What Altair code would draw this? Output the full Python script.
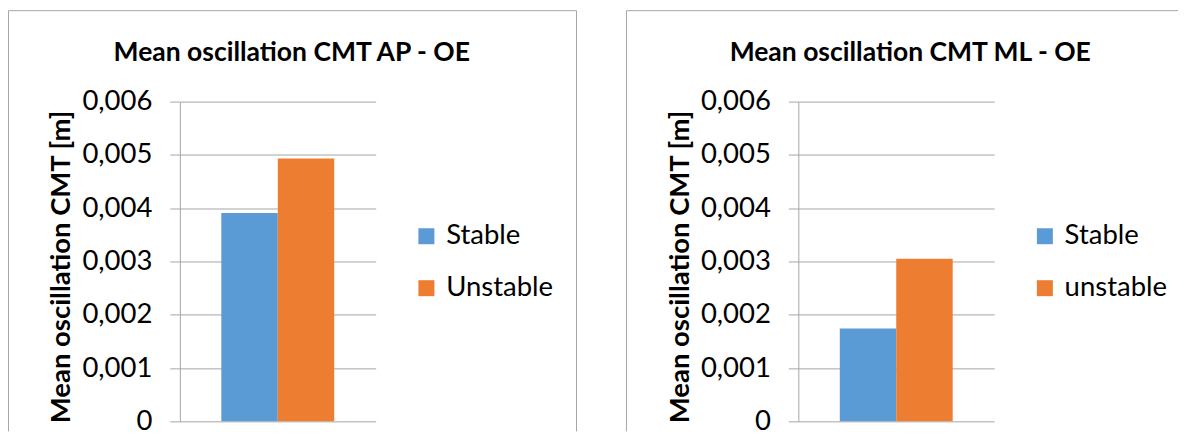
import altair as alt
import pandas as pd

# ---- data ----
titles = ["Mean oscillation CMT AP - OE", "Mean oscillation CMT ML - OE"]
series_ap = ["Stable", "Unstable"]
values_ap = [0.00391, 0.00493]
series_ml = ["Stable", "unstable"]
values_ml = [0.00174, 0.00305]
bar_colors = ["#5B9BD5", "#ED7D31"]
y_ticks = [0, 0.001, 0.002, 0.003, 0.004, 0.005, 0.006]
y_title = "Mean oscillation CMT [m]"

FONT = "Lato"
W, H = 196, 320
GRID = "#a6a6a6"
BORDER = "#a6a6a6"
LABEL_EXPR = "datum.value == 0 ? '0' : replace(format(datum.value, '.3f'), '.', ',')"


def one_row():
    return pd.DataFrame({"k": [0]})


def panel(title, series, values, left, right, top, bottom, right_side=True):
    df = pd.DataFrame({"series": series, "value": values})
    bars = alt.Chart(df).mark_bar(strokeWidth=0).encode(
        x=alt.X("series:N", sort=series, axis=None,
                scale=alt.Scale(paddingInner=0, paddingOuter=0.7345)),
        y=alt.Y("value:Q",
                scale=alt.Scale(domain=[0, 0.006], nice=False, zero=True),
                axis=alt.Axis(values=y_ticks, title=y_title, labelExpr=LABEL_EXPR,
                              labelFont=FONT, labelFontSize=27.5, labelColor="#000000",
                              labelPadding=18, tickSize=10, tickColor=GRID, ticks=True,
                              domainColor=GRID, gridColor=GRID, grid=True,
                              titleFont=FONT, titleFontSize=27.5, titleFontWeight="bold",
                              titleColor="#000000", titleAngle=-90, titleX=-118, titleY=165,
                              titleAlign="center", titleBaseline="middle")),
        color=alt.Color("series:N", sort=series,
                        scale=alt.Scale(domain=series, range=bar_colors),
                        legend=alt.Legend(title=None, orient="none", legendX=233, legendY=121,
                                          symbolType="square", symbolSize=256,
                                          symbolStrokeWidth=0, labelFont=FONT,
                                          labelFontSize=27.5, labelColor="#000000",
                                          labelOffset=6, rowPadding=23, padding=0)),
    )
    head = alt.Chart(one_row()).mark_text(
        font=FONT, fontSize=26.5, fontWeight="bold", color="#000000",
        align="center", baseline="alphabetic"
    ).encode(x=alt.value(112), y=alt.value(-40.7), text=alt.value(title))
    top_rule = alt.Chart(one_row()).mark_rule(color=BORDER, strokeWidth=1).encode(
        x=alt.value(left), x2=alt.value(right), y=alt.value(top))
    left_rule = alt.Chart(one_row()).mark_rule(color=BORDER, strokeWidth=1).encode(
        x=alt.value(left), y=alt.value(top), y2=alt.value(bottom))
    layers = [top_rule, left_rule]
    if right_side:
        layers.append(alt.Chart(one_row()).mark_rule(color=BORDER, strokeWidth=1).encode(
            x=alt.value(right), y=alt.value(top), y2=alt.value(bottom)))
    layers += [bars, head]
    return alt.layer(*layers).properties(width=W, height=H)


left_panel = panel(titles[0], series_ap, values_ap, -171.5, 397, -91, 330, True)
right_panel = panel(titles[1], series_ml, values_ml, -172, 380, -91, 330, False)

chart = alt.hconcat(left_panel, right_panel, spacing=48).resolve_scale(
    color="independent", x="independent", y="independent"
).properties(
    padding={"left": 0, "top": 1.5, "right": 0, "bottom": 0},
    background="white",
).configure_view(strokeWidth=0)

chart.save("out.html", embed_options={"renderer": "svg", "actions": False})
